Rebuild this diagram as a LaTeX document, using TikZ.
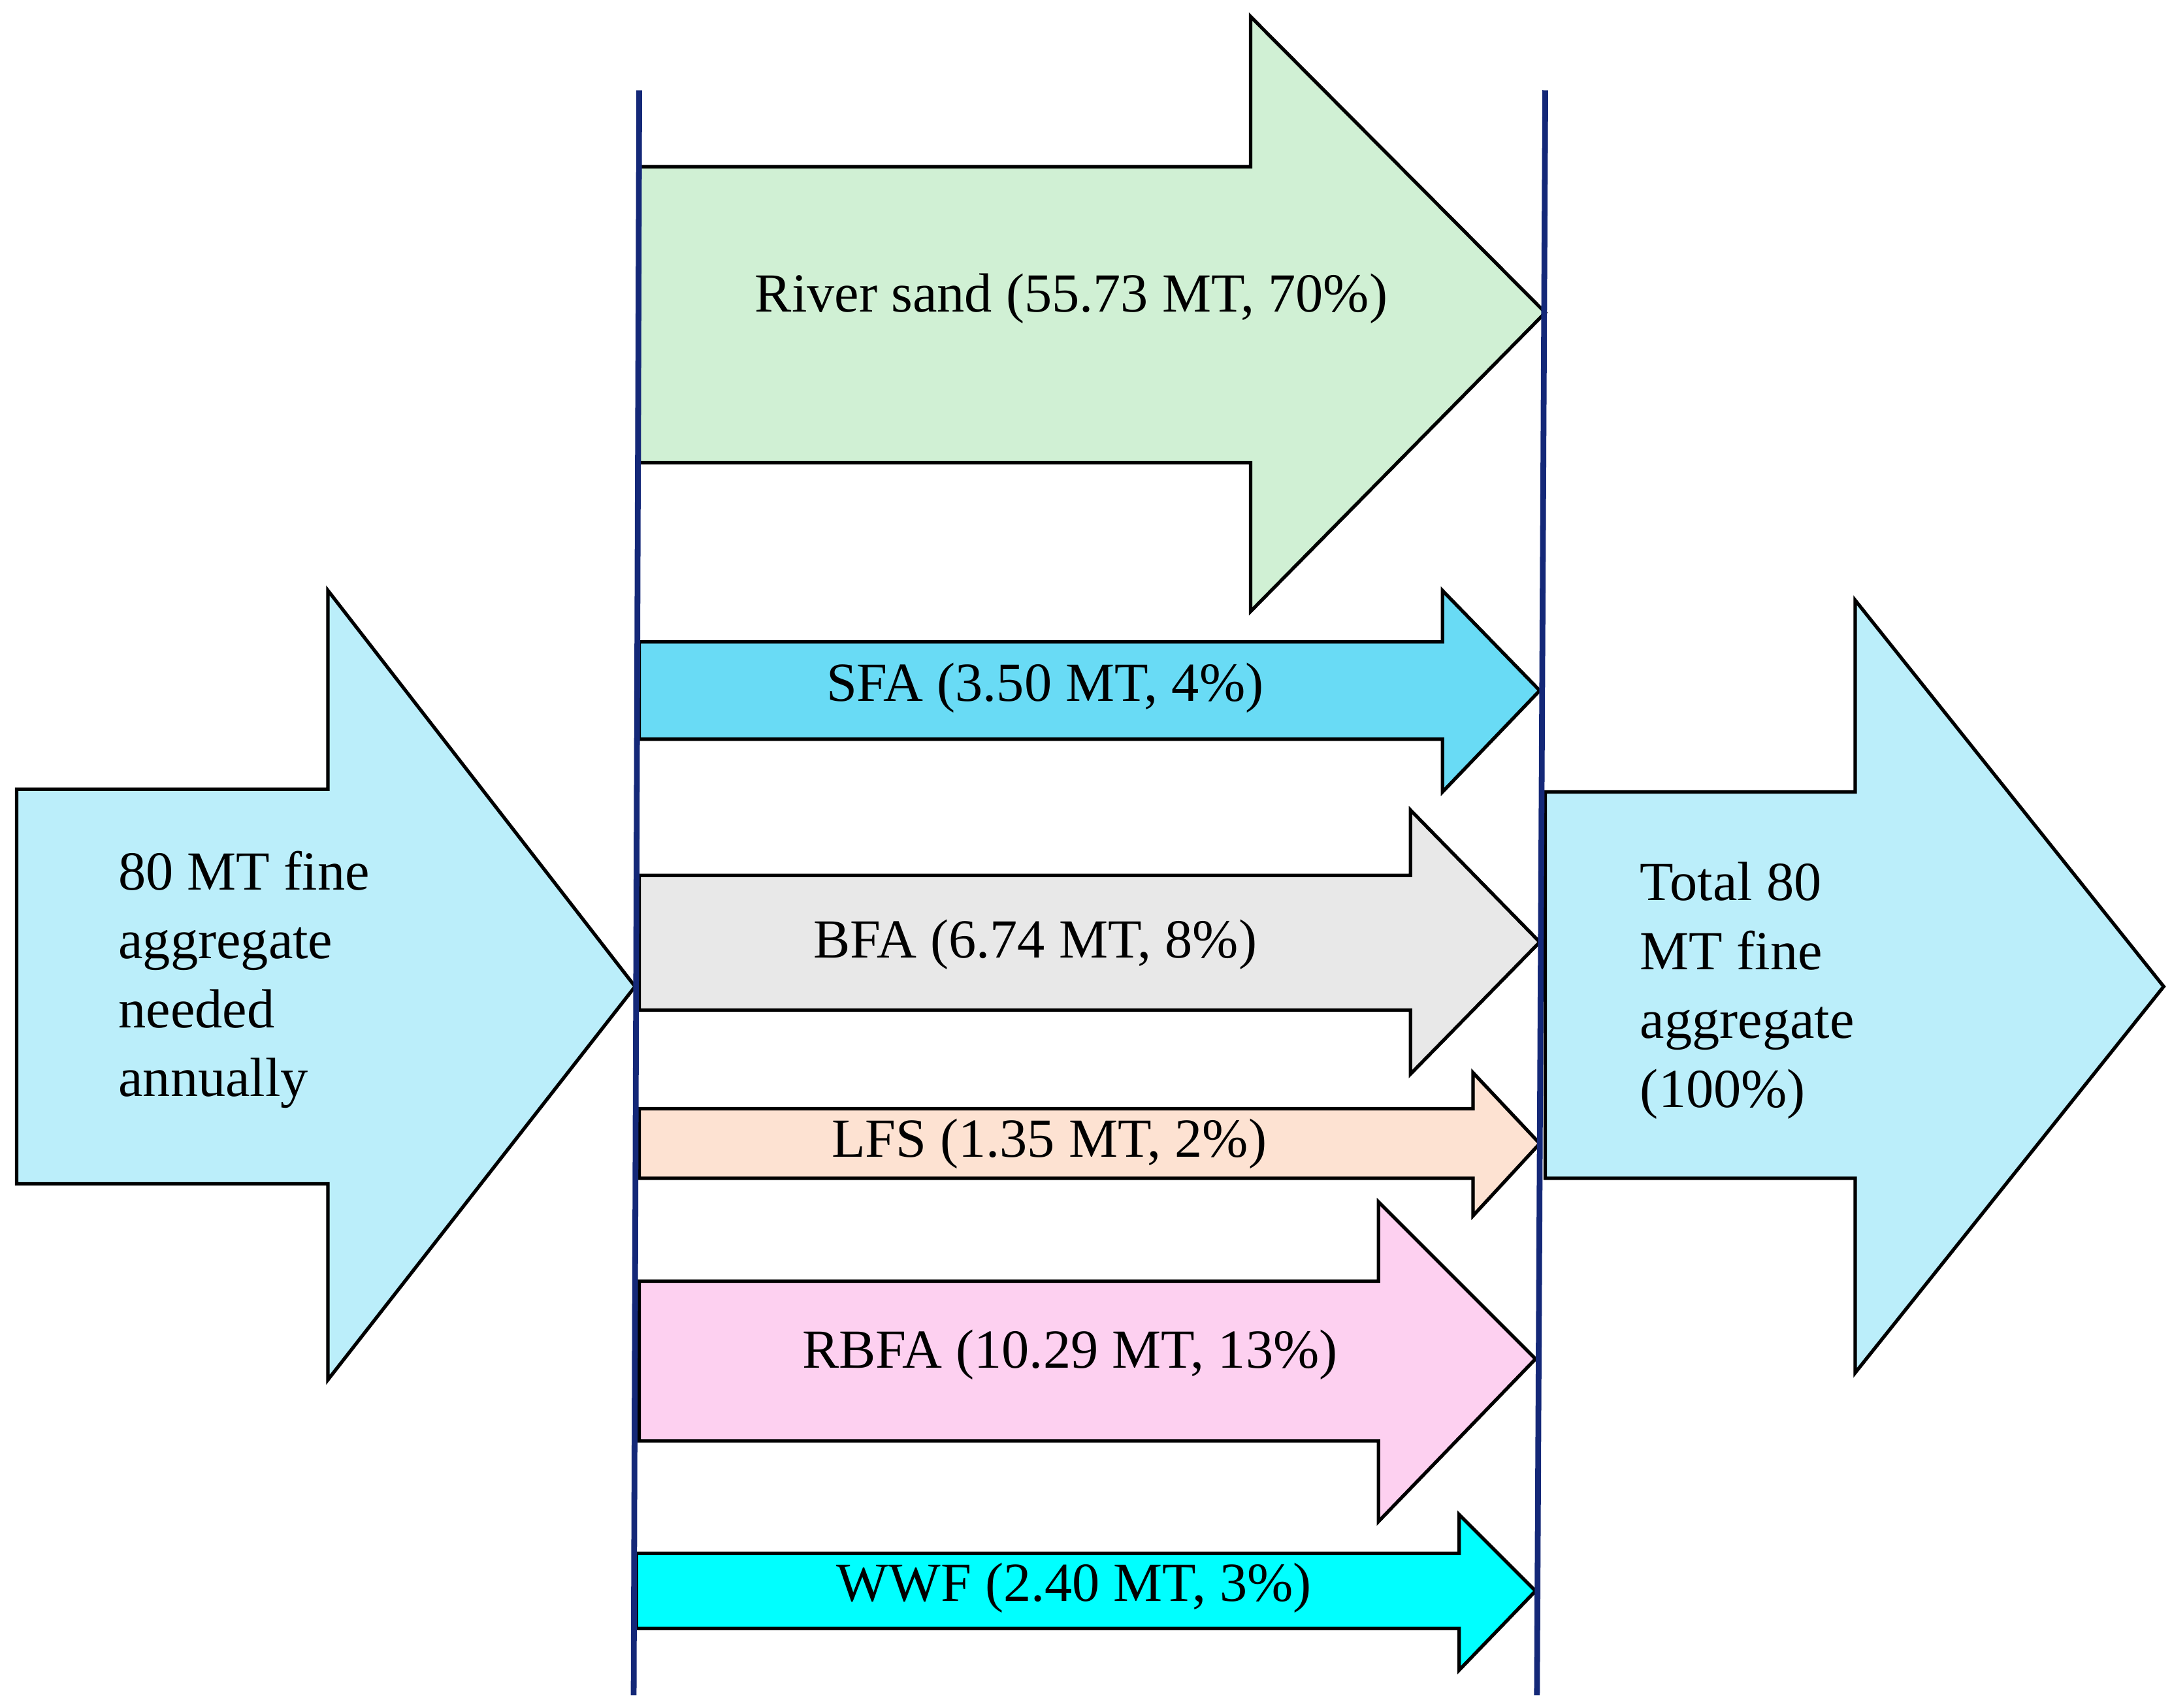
\documentclass[tikz,border=0pt]{standalone}
\usepackage{fontspec}
\setmainfont{Liberation Serif}
\definecolor{lcyan}{RGB}{187,238,250}
\definecolor{lgreen}{RGB}{208,240,212}
\definecolor{sfab}{RGB}{105,219,245}
\definecolor{lgray}{RGB}{232,232,232}
\definecolor{peach}{RGB}{253,226,210}
\definecolor{lpink}{RGB}{253,208,240}
\definecolor{aqua}{RGB}{0,255,255}
\definecolor{navy}{RGB}{20,40,120}
\tikzset{
  arr/.style={draw=black, line width=1.5pt, line join=miter},
  lbl/.style={font=\fontsize{24}{30}\selectfont, inner sep=0pt},
  side/.style={font=\fontsize{24}{30}\selectfont, align=left, inner sep=0pt, anchor=west},
  bar/.style={draw=navy, line width=2.5pt}
}
\begin{document}
\begin{tikzpicture}[x=0.02127cm,y=-0.02127cm]
                \useasboundingbox (0,0) rectangle (1563,1229);

                % input and output
                \draw[arr, fill=lcyan] (12,568) -- (236,568) -- (236,425) -- (457,710) -- (236,993) -- (236,852) -- (12,852) -- cycle;
                \draw[arr, fill=lcyan] (1112,570) -- (1335,570) -- (1335,432) -- (1557,710) -- (1335,988) -- (1335,848) -- (1112,848) -- cycle;

                % sources
                \draw[arr, fill=lgreen] (460,120) -- (900,120) -- (900,12) -- (1112,225) -- (900,440) -- (900,333) -- (460,333) -- cycle;
                \draw[arr, fill=sfab] (460,462) -- (1038,462) -- (1038,425) -- (1108,497) -- (1038,570) -- (1038,532) -- (460,532) -- cycle;
                \draw[arr, fill=lgray] (460,630) -- (1015,630) -- (1015,583) -- (1108,678) -- (1015,773) -- (1015,727) -- (460,727) -- cycle;
                \draw[arr, fill=peach] (460,798) -- (1060,798) -- (1060,772) -- (1108,823) -- (1060,875) -- (1060,848) -- (460,848) -- cycle;
                \draw[arr, fill=lpink] (460,922) -- (992,922) -- (992,865) -- (1105,978) -- (992,1095) -- (992,1037) -- (460,1037) -- cycle;
                \draw[arr, fill=aqua] (458,1118) -- (1050,1118) -- (1050,1090) -- (1105,1145) -- (1050,1202) -- (1050,1172) -- (458,1172) -- cycle;

                % boundaries
                \coordinate (lt) at (460,65);
                \coordinate (lb) at (456,1220);
                \coordinate (rt) at (1112,65);
                \coordinate (rb) at (1106,1220);
                \draw[bar] (lt) -- (lb);
                \draw[bar] (rt) -- (rb);

                \node[side] (need) at (85,705) {80 MT fine\\aggregate\\needed\\annually};
                \node[side] (total) at (1180,713) {Total 80\\MT fine\\aggregate\\(100\%)};
                \node[lbl] (river) at (771,215) {River sand (55.73 MT, 70\%)};
                \node[lbl] (sfa) at (752,495) {SFA (3.50 MT, 4\%)};
                \node[lbl] (bfa) at (745,680) {BFA (6.74 MT, 8\%)};
                \node[lbl] (lfs) at (755,823) {LFS (1.35 MT, 2\%)};
                \node[lbl] (rbfa) at (770,975) {RBFA (10.29 MT, 13\%)};
                \node[lbl] (wwf) at (773,1143) {WWF (2.40 MT, 3\%)};

            \end{tikzpicture}
\end{document}
